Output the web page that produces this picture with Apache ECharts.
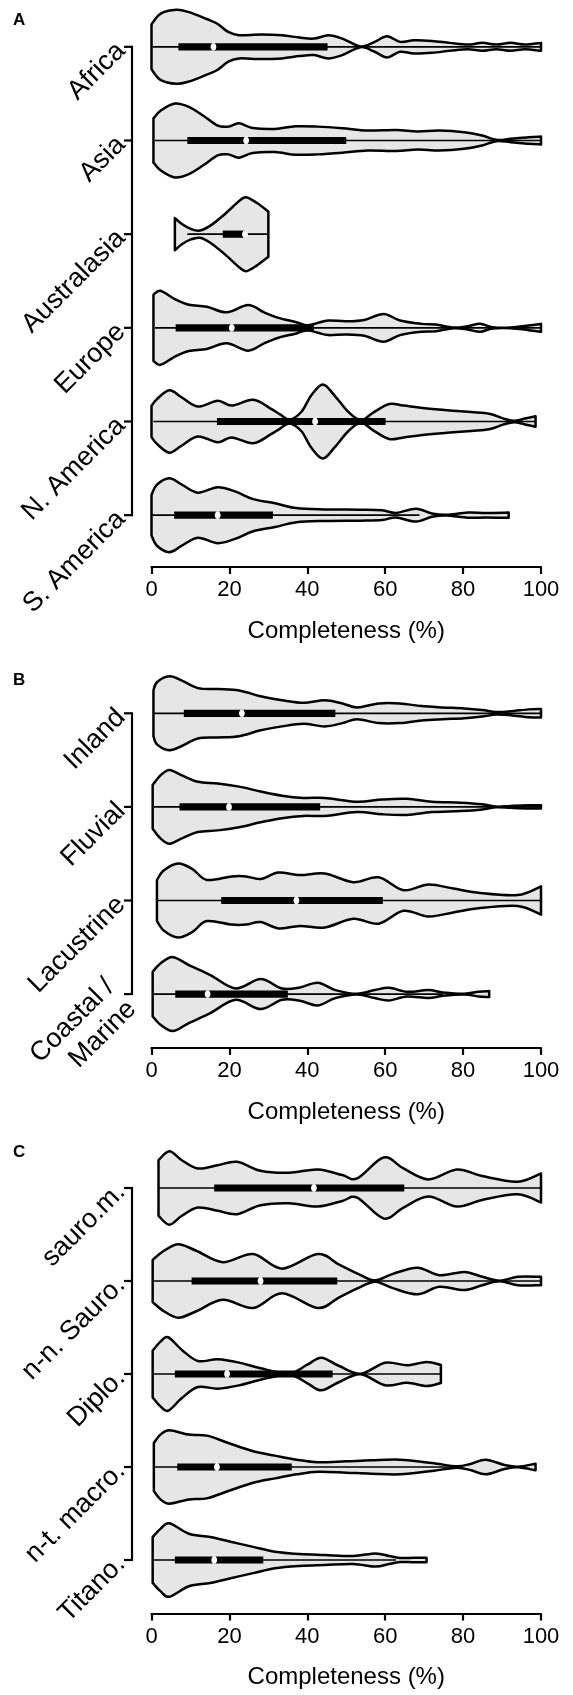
<!DOCTYPE html>
<html><head><meta charset="utf-8">
<script src="https://cdn.jsdelivr.net/npm/echarts@6/dist/echarts.min.js"></script>
<style>html,body{margin:0;padding:0;background:#fff}#c{width:573px;height:1695px}</style>
</head><body><div id="c"></div>
<script>
// ---------- categories ----------
const catsA = ['Africa', 'Asia', 'Australasia', 'Europe', 'N. America', 'S. America'];
const catsB = ['Inland', 'Fluvial', 'Lacustrine', 'Coastal /\nMarine'];
const catsC = ['sauro.m.', 'n-n. Sauro.', 'Diplo.', 'n-t. macro.', 'Titano.'];
const xTicks = [0, 20, 40, 60, 80, 100];

// ---------- violin profiles: [completeness %, relative density] ----------
const africa = [[0,68],[2.3,100],[6.4,112],[9.6,105],[14,85],[16.9,70],[19.7,45],[22.5,35],[28,37],[33.5,35],[38,28],[41.7,25],[45.4,35],[49,25],[53.7,1],[57.3,15],[60.5,32],[63.8,15],[67.4,20],[72,18],[76.6,12],[81.2,7],[84.9,12],[88.5,7],[92.2,12],[95.9,7],[100,12]];
const asia = [[0.5,67],[2.3,90],[6,112],[9.6,102],[13.3,75],[17,45],[19.7,42],[22.5,52],[26,38],[31.7,35],[37,43],[42.7,42],[49,37],[55.5,30],[62.8,32],[68.3,27],[73.9,30],[80.3,25],[84.9,15],[88.5,2],[92.2,5],[96.8,10],[100,12]];
const australasia = [[6,49],[7.8,31],[10.1,16],[12.4,11],[15.1,26],[18.8,61],[22.5,101],[24.3,113],[27,96],[30,69]];
const europe = [[0.5,100],[2.3,112],[6,87],[9.6,70],[14.2,64],[19.3,47],[24.8,69],[28.9,47],[32.6,30],[37.2,17],[39.9,7],[42.7,15],[45.4,22],[50,20],[54.6,24],[59.6,42],[63.8,22],[69.3,12],[73,10],[77.6,1],[81.2,5],[84.4,12],[87.6,2],[92.2,1],[96.8,7],[100,12]];
const nAmerica = [[0,48],[1.4,69],[4.6,96],[7.8,74],[11.9,46],[17,64],[20.6,49],[26.1,67],[30.7,39],[33,22],[35.5,6],[38.5,30],[41,80],[44,114],[47,80],[50.5,30],[53.8,4],[57,28],[61,54],[64.7,49],[70.2,41],[76.6,34],[82.1,29],[86.7,24],[90.4,9],[93.1,2],[95.9,9],[98.6,16]];
const sAmerica = [[0,63],[1.4,95],[4.6,115],[7.8,95],[11.9,70],[17,87],[21.6,73],[26.1,50],[31.7,37],[37.2,22],[44.5,18],[53.7,17],[59.2,15],[62.8,7],[67.9,20],[72,5],[75.7,1],[81.2,8],[85.8,7],[91.7,8]];
const inland = [[0.5,70],[1.4,95],[4.6,113],[7.8,100],[11.9,77],[17,74],[22.5,70],[28,52],[33.5,40],[39,32],[44.5,40],[49,30],[52.8,18],[58.3,30],[63.8,30],[69.3,22],[74.8,18],[80.3,15],[84.9,10],[88.5,4],[92.2,6],[96.8,12],[100,13]];
const fluvial = [[0.3,68],[2.3,98],[4.6,115],[7.8,98],[11.9,78],[17,73],[22.5,63],[28,48],[33.5,35],[39,28],[44.5,28],[52.8,16],[59.2,23],[65.6,25],[72,16],[79.4,13],[84.9,8],[88.5,1],[92.2,3],[96.8,5],[100,5]];
const lacustrine = [[1.4,64],[3.2,94],[6.9,115],[10.6,97],[14.2,64],[20.6,75],[24.3,75],[28,67],[32.6,87],[38.1,79],[44.5,84],[51.8,57],[58.3,72],[64.7,32],[71.1,50],[77.5,37],[83.9,24],[94,17],[100,44]];
const coastal = [[0.3,67],[2.3,92],[5.5,111],[9.6,87],[15.1,57],[21.6,17],[28,45],[33.5,17],[38.1,20],[42.7,34],[47.2,12],[52.8,1],[57.3,12],[61,19],[65.6,7],[71.1,12],[74.8,5],[80.3,1],[83.9,7],[86.7,9]];
const sauroM = [[1.8,84],[4.6,111],[7.8,84],[11.9,59],[17,69],[22,79],[28,52],[35.3,46],[42.7,56],[49,39],[52.8,29],[59.6,92],[64.7,59],[71.1,26],[78.4,56],[84.9,36],[94,19],[100,44]];
const nnSauro = [[0.3,65],[3.2,93],[6.9,113],[11.5,93],[18.3,58],[26.1,83],[33.5,38],[42.7,83],[48.2,50],[53.7,18],[57.5,2],[62,22],[68.3,41],[73.9,18],[80.3,28],[84.9,13],[89.4,1],[94,13],[100,13]];
const diplo = [[0.3,70],[2.3,97],[4.3,110],[7.8,72],[11.9,39],[17,44],[22.5,34],[28,17],[35.3,2],[39.9,27],[43.6,49],[48.2,24],[53.7,1],[60,34],[65.6,26],[70.6,36],[74.3,27]];
const ntMacro = [[0.6,72],[2.3,97],[4.6,110],[9.6,97],[14.2,94],[19.7,72],[26.1,47],[31.7,34],[37.2,22],[42.7,14],[50,17],[56.4,20],[63.8,22],[72,12],[78.4,2],[82.1,10],[85.8,22],[90.4,7],[94,1],[98.6,10]];
const titano = [[0.3,70],[2.3,95],[4.6,112],[9.6,80],[15.1,70],[20.6,55],[26.1,40],[31.7,25],[38.1,18],[44.5,15],[51.8,12],[57.5,20],[61,12],[63.8,6],[67.4,7],[70.6,7]];

// ---------- box stats: [whisker low, Q1, median, Q3, whisker high] ----------
const boxesA = [[0,6.9,15.9,45.2,100],[0.9,9.2,24.3,50,100],[9.2,18.3,24,24,29.8],[0.9,6.2,20.6,41.7,100],[0.5,16.8,42,60.1,98.6],[0,5.8,17,31.2,68.8]];
const boxesB = [[0.5,8.3,23.2,47.2,100],[0.5,7.2,19.9,43.3,100],[1.4,17.9,37.2,59.4,100],[0.5,6.1,14.4,35,74.8]];
const boxesC = [[1.8,16.1,41.7,64.9,100],[0.5,10.3,28,47.7,100],[0.5,6,19.4,46.5,74.3],[0.9,6.6,16.8,36,80],[0.5,6,16.1,28.7,62.8]];

const profilesA = [africa, asia, australasia, europe, nAmerica, sAmerica];
const profilesB = [inland, fluvial, lacustrine, coastal];
const profilesC = [sauroM, nnSauro, diplo, ntMacro, titano];

// ---------- layout ----------
const FONT = "'Liberation Sans', Arial, Helvetica, sans-serif";
const gridLeft = 151.5, gridWidth = 389.5;
const Y_OFF = 19.5, Y_TICK = 8;
const panels = [
  {cats: catsA, profiles: profilesA, boxes: boxesA, top: 0, height: 562, xOff: 5, letter: 'A', ly: 12},
  {cats: catsB, profiles: profilesB, boxes: boxesB, top: 666.5, height: 374.4, xOff: 7, letter: 'B', ly: 672},
  {cats: catsC, profiles: profilesC, boxes: boxesC, top: 1141.5, height: 465, xOff: 7, letter: 'C', ly: 1144}
];

function smoothPath(pts) {
  let d = '';
  for (let i = 0; i < pts.length - 1; i++) {
    const p0 = pts[Math.max(0, i - 1)], p1 = pts[i], p2 = pts[i + 1], p3 = pts[Math.min(pts.length - 1, i + 2)];
    const c1 = [p1[0] + (p2[0] - p0[0]) / 6, p1[1] + (p2[1] - p0[1]) / 6];
    const c2 = [p2[0] - (p3[0] - p1[0]) / 6, p2[1] - (p3[1] - p1[1]) / 6];
    d += ' C' + c1[0] + ',' + c1[1] + ' ' + c2[0] + ',' + c2[1] + ' ' + p2[0] + ',' + p2[1];
  }
  return d;
}

function makeViolinRender(profiles, boxes) {
  return function (params, api) {
    const i = api.value(0);
    const prof = profiles[i];
    const b = boxes[i];
    const maxW = Math.max.apply(null, prof.map(p => p[1]));
    const band = api.size([0, 1])[1];
    const halfMax = band * 0.395;
    const cy = api.coord([0, i])[1];
    const xs = prof.map(p => api.coord([p[0], i])[0]);
    const upper = prof.map((p, k) => [xs[k], cy - p[1] / maxW * halfMax]);
    const lower = prof.map((p, k) => [xs[k], cy + p[1] / maxW * halfMax]).reverse();
    let d = 'M' + upper[0][0] + ',' + upper[0][1] + smoothPath(upper);
    d += ' L' + lower[0][0] + ',' + lower[0][1] + smoothPath(lower) + ' Z';
    const x = v => api.coord([v, i])[0];
    return {
      type: 'group',
      children: [
        {type: 'path', shape: {pathData: d}, style: {fill: '#e6e6e6', stroke: '#000', lineWidth: 2.5, lineJoin: 'round'}},
        {type: 'line', shape: {x1: x(b[0]), y1: cy, x2: x(b[4]), y2: cy}, style: {stroke: '#000', lineWidth: 1.7}},
        {type: 'rect', shape: {x: x(b[1]), y: cy - 3.6, width: x(b[3]) - x(b[1]), height: 7.2}, style: {fill: '#000'}},
        {type: 'ellipse', shape: {cx: x(b[2]), cy: cy, rx: 2.9, ry: 3.9}, style: {fill: '#fff'}}
      ]
    };
  };
}

function makeAxisRender(n) {
  return function (params, api) {
    const a = api.coord([0, 0]), z = api.coord([0, n - 1]);
    const ax = a[0] - Y_OFF;
    const kids = [{type: 'line', shape: {x1: ax, y1: a[1] - 1, x2: ax, y2: z[1] + 1}, style: {stroke: '#000', lineWidth: 2.2}}];
    for (let i = 0; i < n; i++) {
      const c = api.coord([0, i]);
      kids.push({type: 'line', shape: {x1: ax - Y_TICK, y1: c[1], x2: ax, y2: c[1]}, style: {stroke: '#000', lineWidth: 2.2}});
    }
    return {type: 'group', children: kids};
  };
}

const grid = [], xAxis = [], yAxis = [], series = [], graphic = [];
panels.forEach((p, k) => {
  grid.push({left: gridLeft, width: gridWidth, top: p.top, height: p.height});
  xAxis.push({
    type: 'value', gridIndex: k, min: xTicks[0], max: xTicks[xTicks.length - 1], interval: xTicks[1] - xTicks[0], offset: p.xOff,
    splitLine: {show: false},
    axisLine: {show: true, lineStyle: {color: '#000', width: 2.2}},
    axisTick: {show: true, inside: false, length: 7, lineStyle: {color: '#000', width: 2.2}},
    axisLabel: {color: '#000', fontSize: 22, fontFamily: FONT, margin: 12},
    name: 'Completeness (%)', nameLocation: 'middle', nameGap: 52,
    nameTextStyle: {color: '#000', fontSize: 24, fontFamily: FONT}
  });
  yAxis.push({
    type: 'category', gridIndex: k, data: p.cats, inverse: true, offset: Y_OFF,
    axisLine: {show: false},
    axisTick: {show: false},
    axisLabel: {color: '#000', fontSize: 27, fontFamily: FONT, rotate: 45, margin: 11, lineHeight: 31},
    splitLine: {show: false}
  });
  series.push({
    type: 'custom', xAxisIndex: k, yAxisIndex: k,
    data: p.cats.map((c, i) => [i]),
    encode: {x: -1, y: 0},
    renderItem: makeViolinRender(p.profiles, p.boxes),
    silent: true, clip: false
  });
  series.push({
    type: 'custom', xAxisIndex: k, yAxisIndex: k,
    data: [[0]], encode: {x: -1, y: 0},
    renderItem: makeAxisRender(p.cats.length),
    silent: true, clip: false
  });
  graphic.push({type: 'text', left: 13, top: p.ly,
    style: {text: p.letter, fill: '#000', font: 'bold 17px "Liberation Sans", Arial, sans-serif'}});
});

const chart = echarts.init(document.getElementById('c'), null, {renderer: 'canvas'});
chart.setOption({animation: false, backgroundColor: '#fff', grid, xAxis, yAxis, series, graphic});
</script>
</body></html>
